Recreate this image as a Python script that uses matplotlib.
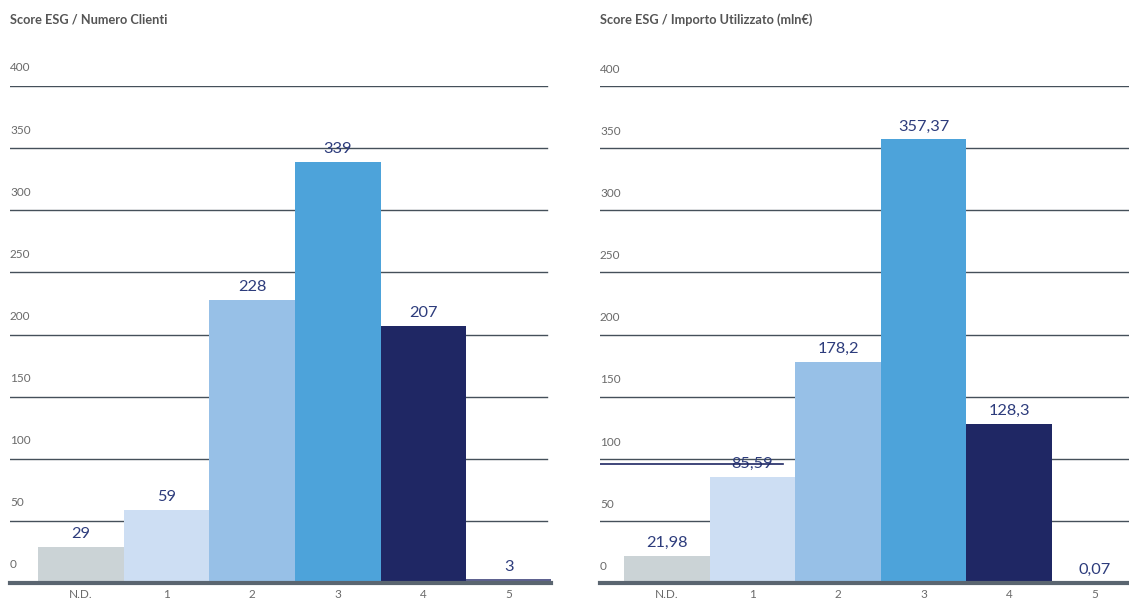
import matplotlib
matplotlib.use("Agg")
import matplotlib.pyplot as plt

plt.rcParams['font.family'] = ['Lato', 'DejaVu Sans']

categories = ["N.D.", "1", "2", "3", "4", "5"]
clienti = [29, 59, 228, 339, 207, 3]
clienti_labels = ["29", "59", "228", "339", "207", "3"]
importo = [21.98, 85.59, 178.2, 357.37, 128.3, 0.07]
importo_labels = ["21,98", "85,59", "178,2", "357,37", "128,3", "0,07"]
y_ticks = [0, 50, 100, 150, 200, 250, 300, 350, 400]

bar_colors = ["#CBD3D6", "#CDDEF3", "#97C0E7", "#4DA3DA", "#1F2764", "#5E6290"]
grid_color = "#45505A"
tick_color = "#6A6A6A"
value_color = "#2D3C7C"

W, H = 1129, 601


def draw_panel(ax, title, values, labels, x_left, grid_end, tick_off):
    x = list(range(len(values)))
    ax.set_xlim(*x_left)
    ax.set_ylim(0, 400)
    ax.axis("off")
    for t in y_ticks[1:]:
        ax.axhline(t, xmin=0, xmax=grid_end, color=grid_color, lw=1.0, zorder=1)
    ax.bar(x, values, width=1.0, color=bar_colors, zorder=2)
    ax.axhline(0, color="#5A6570", lw=3, zorder=3, clip_on=False)
    for xi, v, lab in zip(x, values, labels):
        ax.annotate(lab, (xi, v), xytext=(0, 4), textcoords="offset points",
                    ha="center", va="bottom", fontsize=11.8, color=value_color,
                    zorder=4)
    for t in y_ticks:
        ax.annotate(str(t), (0, t), xycoords=("axes fraction", "data"),
                    xytext=(0, tick_off), textcoords="offset points",
                    ha="left", va="center", fontsize=8.5, color=tick_color)
    for xi, c in zip(x, categories):
        ax.annotate(c, (xi, 0), xytext=(0, -8.5), textcoords="offset points",
                    ha="center", va="center", fontsize=8.5, color=tick_color,
                    annotation_clip=False)
    ax.annotate(title, (0, 1), xycoords="axes fraction", xytext=(0, 48),
                textcoords="offset points", ha="left", va="center",
                fontsize=9.2, fontweight="bold", color="#555555")


fig = plt.figure(figsize=(W / 100, H / 100), dpi=100)

# left panel: 10..551 px, value 0 at y=583, 400 at y=86
ax1 = fig.add_axes([10 / W, (H - 583) / H, 541 / W, 497 / H])
draw_panel(ax1, "Score ESG / Numero Clienti", clienti, clienti_labels,
           (-0.83, 5.49), 537 / 541, 13)

# right panel: 600..1129 px
ax2 = fig.add_axes([600 / W, (H - 583) / H, 529 / W, 497 / H])
draw_panel(ax2, "Score ESG / Importo Utilizzato (mln€)", importo,
           importo_labels, (-0.78, 5.40), 1.0, 12)
# stray navy segment near the 100 line in the original
ax2.axhline(96, xmin=0, xmax=183 / 529, color="#1F2764", lw=1.2, zorder=5)

fig.savefig("out.png", dpi=100)
